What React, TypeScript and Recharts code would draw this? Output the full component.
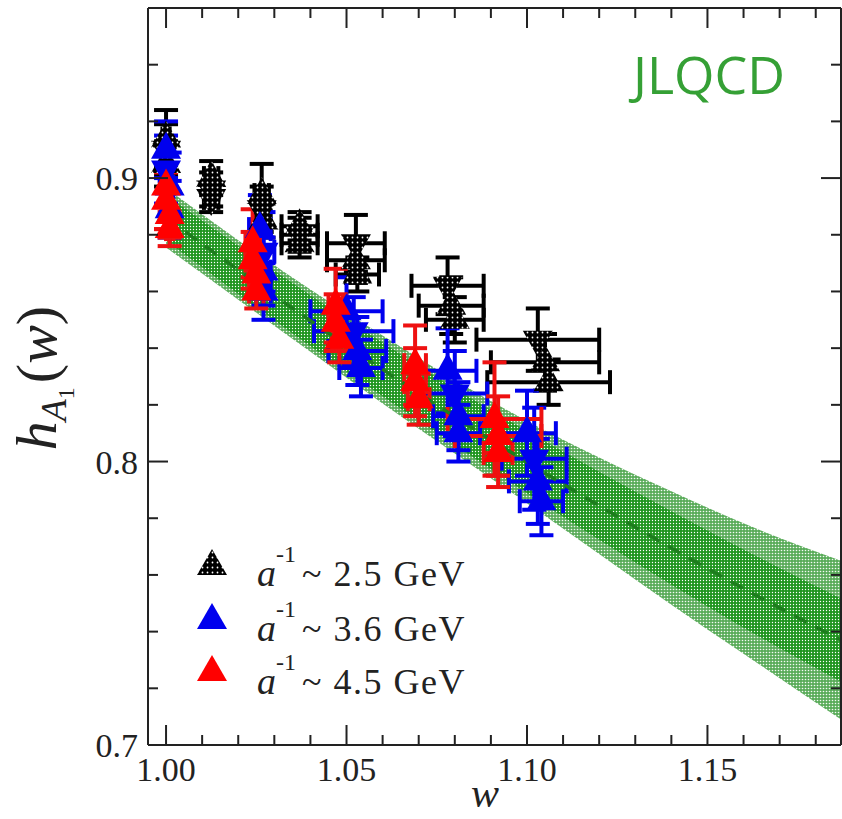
import React from "react";
import { ComposedChart, Scatter, ErrorBar, XAxis, YAxis, Area, Line } from "recharts";

// ---------- axis ticks ----------
const xTicks = [1.0, 1.01, 1.02, 1.03, 1.04, 1.05, 1.06, 1.07, 1.08, 1.09, 1.1, 1.11, 1.12, 1.13, 1.14, 1.15, 1.16, 1.17, 1.18];
const yTicks = [0.7, 0.72, 0.74, 0.76, 0.78, 0.8, 0.82, 0.84, 0.86, 0.88, 0.9, 0.92, 0.94, 0.96];
const xDomain: [number, number] = [0.995, 1.187];
const yDomain: [number, number] = [0.7, 0.96];

// ---------- fit band ----------
const bandW = [1.0, 1.02, 1.04, 1.06, 1.08, 1.1, 1.12, 1.14, 1.16, 1.187];
const bandCenter = [0.886, 0.8676, 0.8497, 0.8325, 0.8158, 0.7998, 0.7844, 0.7695, 0.7552, 0.737];
const outerHi = [0.8965, 0.8781, 0.8607, 0.8445, 0.8288, 0.8143, 0.8014, 0.7895, 0.7782, 0.765];
const outerLo = [0.8755, 0.8571, 0.8387, 0.8205, 0.8028, 0.7853, 0.7674, 0.7495, 0.7322, 0.709];
const innerHi = [0.894, 0.8761, 0.8587, 0.842, 0.8258, 0.8108, 0.7964, 0.7825, 0.769, 0.7517];
const innerLo = [0.878, 0.8591, 0.8407, 0.823, 0.8058, 0.7888, 0.7724, 0.7565, 0.7414, 0.7223];

// ---------- a^-1 ~ 2.5 GeV (black) ----------
const blackW = [1.0, 1.0, 1.0, 1.0125, 1.0125, 1.0125, 1.0265, 1.0265, 1.027, 1.037, 1.037, 1.037, 1.0526, 1.0526, 1.053, 1.078, 1.079, 1.08, 1.103, 1.105, 1.106];
const blackH = [0.914, 0.91, 0.905, 0.9, 0.896, 0.893, 0.894, 0.889, 0.885, 0.883, 0.88, 0.877, 0.877, 0.871, 0.866, 0.862, 0.855, 0.85, 0.843, 0.835, 0.828];
const blackEw = [0.001, 0.001, 0.001, 0.002, 0.002, 0.002, 0.002, 0.002, 0.002, 0.005, 0.005, 0.005, 0.008, 0.008, 0.006, 0.01, 0.009, 0.008, 0.017, 0.015, 0.017];
const blackEh = [0.01, 0.009, 0.008, 0.006, 0.006, 0.005, 0.011, 0.008, 0.006, 0.005, 0.006, 0.005, 0.01, 0.008, 0.006, 0.01, 0.01, 0.008, 0.011, 0.01, 0.008];
const blackDown = [false, true, false, false, true, true, false, true, false, false, true, false, true, false, false, true, false, false, true, false, false];

// ---------- a^-1 ~ 3.6 GeV (blue) ----------
const blueW = [1.0, 1.0, 1.001, 1.001, 1.026, 1.027, 1.027, 1.027, 1.05, 1.052, 1.053, 1.054, 1.078, 1.08, 1.081, 1.081, 1.1, 1.102, 1.103, 1.104];
const blueH = [0.91, 0.903, 0.897, 0.889, 0.882, 0.874, 0.867, 0.86, 0.853, 0.846, 0.839, 0.833, 0.832, 0.824, 0.816, 0.81, 0.81, 0.801, 0.793, 0.786];
const blueEw = [0.001, 0.001, 0.001, 0.001, 0.003, 0.003, 0.002, 0.002, 0.01, 0.011, 0.008, 0.006, 0.008, 0.009, 0.007, 0.006, 0.008, 0.009, 0.008, 0.006];
const blueEh = [0.01, 0.012, 0.012, 0.01, 0.012, 0.014, 0.012, 0.01, 0.012, 0.012, 0.012, 0.01, 0.015, 0.015, 0.012, 0.01, 0.015, 0.018, 0.015, 0.012];

// ---------- a^-1 ~ 4.5 GeV (red) ----------
const redW = [1.0, 1.0, 1.001, 1.001, 1.024, 1.024, 1.025, 1.025, 1.047, 1.047, 1.048, 1.069, 1.069, 1.07, 1.091, 1.092, 1.092];
const redH = [0.897, 0.892, 0.887, 0.882, 0.877, 0.871, 0.866, 0.86, 0.855, 0.849, 0.843, 0.834, 0.828, 0.822, 0.815, 0.809, 0.803];
const redEw = [0.001, 0.001, 0.001, 0.001, 0.002, 0.002, 0.002, 0.002, 0.002, 0.002, 0.002, 0.003, 0.003, 0.003, 0.013, 0.012, 0.004];
const redEh = [0.015, 0.01, 0.008, 0.006, 0.012, 0.01, 0.008, 0.006, 0.013, 0.01, 0.008, 0.014, 0.012, 0.009, 0.02, 0.014, 0.012];

const legendItems = [
  { value: "2.5", fill: "url(#stipple)" },
  { value: "3.6", fill: "#0000ee" },
  { value: "4.5", fill: "#ff0000" },
];

const bandData = bandW.map((w, i) => ({
  w,
  outer: [outerLo[i], outerHi[i]],
  inner: [innerLo[i], innerHi[i]],
  c: bandCenter[i],
}));
const blackData = blackW.map((w, i) => ({ w, h: blackH[i], ew: blackEw[i], eh: blackEh[i], down: blackDown[i] }));
const blueData = blueW.map((w, i) => ({ w, h: blueH[i], ew: blueEw[i], eh: blueEh[i], down: i % 4 === 1 }));
const redData = redW.map((w, i) => ({ w, h: redH[i], ew: redEw[i], eh: redEh[i], down: false }));

const SERIF = "'Liberation Serif', 'Times New Roman', serif";
const AX = "#222";

const makeShape = (fill: string) => (props: any) => {
  const { cx, cy, payload } = props;
  if (cx == null || cy == null) return <g />;
  const hw = 15;
  const h = 27;
  const pts = payload && payload.down
    ? `${cx - hw},${cy - h / 3} ${cx + hw},${cy - h / 3} ${cx},${cy + (2 * h) / 3}`
    : `${cx - hw},${cy + h / 3} ${cx + hw},${cy + h / 3} ${cx},${cy - (2 * h) / 3}`;
  return <polygon points={pts} fill={fill} />;
};

const isMajor = (v: number, step: number) => Math.abs(v / step - Math.round(v / step)) < 1e-6;

const XTick = (props: any) => {
  const { x, y, payload, top } = props;
  const v = payload.value;
  const major = isMajor(v, 0.05);
  const len = major ? 20 : 10;
  return (
    <g>
      <line x1={x} x2={x} y1={y} y2={top ? y + len : y - len} stroke={AX} strokeWidth={2} />
      {major && !top && (
        <text x={x} y={y + 36} textAnchor="middle" fontFamily={SERIF} fontSize={34} fill="#222">
          {v.toFixed(2)}
        </text>
      )}
    </g>
  );
};

const YTick = (props: any) => {
  const { x, y, payload, right } = props;
  const v = payload.value;
  const major = isMajor(v, 0.1);
  const len = major ? 20 : 10;
  return (
    <g>
      <line x1={x} x2={right ? x - len : x + len} y1={y} y2={y} stroke={AX} strokeWidth={2} />
      {major && !right && (
        <text x={x - 10} y={y + 12} textAnchor="end" fontFamily={SERIF} fontSize={34} fill="#222">
          {v.toFixed(1)}
        </text>
      )}
    </g>
  );
};

export default function App() {
  return (
    <div style={{ position: "absolute", left: 0, top: 0, width: 842, height: 819, background: "#fff" }}>
      <svg width={0} height={0} style={{ position: "absolute" }}>
        <defs>
          <pattern id="stipple" width={5} height={5} patternUnits="userSpaceOnUse">
            <rect width={5} height={5} fill="#000" />
            <circle cx={2.5} cy={2.5} r={0.9} fill="#fff" />
          </pattern>
          <pattern id="innerBand" width={3} height={3} patternUnits="userSpaceOnUse">
            <rect width={3} height={3} fill="#1f951f" />
            <circle cx={1.5} cy={1.5} r={0.7} fill="#fff" />
          </pattern>
          <pattern id="outerBand" width={3} height={3} patternUnits="userSpaceOnUse">
            <rect width={3} height={3} fill="#5aac5a" />
            <circle cx={1.5} cy={1.5} r={0.8} fill="#f4faf4" />
          </pattern>
        </defs>
      </svg>
      <ComposedChart
        width={842}
        height={819}
        data={bandData}
        margin={{ top: 7, right: 0, bottom: 73, left: 147 }}
      >
        <XAxis
          xAxisId="b"
          dataKey="w"
          type="number"
          domain={xDomain}
          allowDataOverflow
          ticks={xTicks}
          interval={0}
          height={1}
          tickSize={0}
          tickMargin={0}
          tickLine={false}
          tick={(p: any) => <XTick {...p} />}
          axisLine={{ stroke: AX, strokeWidth: 2 }}
        />
        <XAxis
          xAxisId="t"
          orientation="top"
          dataKey="w"
          type="number"
          domain={xDomain}
          allowDataOverflow
          ticks={xTicks}
          interval={0}
          height={1}
          tickSize={0}
          tickMargin={0}
          tickLine={false}
          tick={(p: any) => <XTick {...p} top />}
          axisLine={{ stroke: AX, strokeWidth: 2 }}
        />
        <YAxis
          yAxisId="l"
          type="number"
          domain={yDomain}
          allowDataOverflow
          ticks={yTicks}
          interval={0}
          width={1}
          tickSize={0}
          tickMargin={0}
          tickLine={false}
          tick={(p: any) => <YTick {...p} />}
          axisLine={{ stroke: AX, strokeWidth: 2 }}
        />
        <YAxis
          yAxisId="r"
          orientation="right"
          type="number"
          domain={yDomain}
          allowDataOverflow
          ticks={yTicks}
          interval={0}
          width={1}
          tickSize={0}
          tickMargin={0}
          tickLine={false}
          tick={(p: any) => <YTick {...p} right />}
          axisLine={{ stroke: AX, strokeWidth: 2 }}
        />
        <Area
          xAxisId="b"
          yAxisId="l"
          dataKey="outer"
          type="monotone"
          stroke="none"
          fill="url(#outerBand)"
          fillOpacity={1}
          isAnimationActive={false}
        />
        <Area
          xAxisId="b"
          yAxisId="l"
          dataKey="inner"
          type="monotone"
          stroke="none"
          fill="url(#innerBand)"
          fillOpacity={1}
          isAnimationActive={false}
        />
        <Scatter xAxisId="b" yAxisId="l" data={blackData} dataKey="h" shape={makeShape("url(#stipple)")} isAnimationActive={false}>
          <ErrorBar dataKey="eh" direction="y" width={12} stroke="#000" strokeWidth={4} isAnimationActive={false} />
          <ErrorBar dataKey="ew" direction="x" width={12} stroke="#000" strokeWidth={4} isAnimationActive={false} />
        </Scatter>
        <Scatter xAxisId="b" yAxisId="l" data={blueData} dataKey="h" shape={makeShape("#0000ee")} isAnimationActive={false}>
          <ErrorBar dataKey="eh" direction="y" width={12} stroke="#0000ee" strokeWidth={4} isAnimationActive={false} />
          <ErrorBar dataKey="ew" direction="x" width={12} stroke="#0000ee" strokeWidth={4} isAnimationActive={false} />
        </Scatter>
        <Scatter xAxisId="b" yAxisId="l" data={redData} dataKey="h" shape={makeShape("#ff0000")} isAnimationActive={false}>
          <ErrorBar dataKey="eh" direction="y" width={12} stroke="#ee1111" strokeWidth={4} isAnimationActive={false} />
          <ErrorBar dataKey="ew" direction="x" width={12} stroke="#ee1111" strokeWidth={4} isAnimationActive={false} />
        </Scatter>
        <Line
          xAxisId="b"
          yAxisId="l"
          dataKey="c"
          type="monotone"
          stroke="#1d7d1d"
          strokeWidth={3.5}
          strokeDasharray="14 10"
          dot={false}
          isAnimationActive={false}
        />
      </ComposedChart>
      <svg
        width={842}
        height={819}
        style={{ position: "absolute", left: 0, top: 0, pointerEvents: "none" }}
      >
        <text x={633} y={94} fontFamily="'Open Sans', sans-serif" fontSize={52} fill="#35a035">
          JLQCD
        </text>
        <text x={485} y={807} textAnchor="middle" fontFamily={SERIF} fontSize={42} fontStyle="italic" fill="#222">
          w
        </text>
        <g transform="translate(56,378) rotate(-90)">
          <text x={0} y={0} textAnchor="middle" fontFamily={SERIF} fontSize={58} fill="#222">
            <tspan fontStyle="italic">h</tspan>
            <tspan fontStyle="italic" fontSize={36} dy={10}>A</tspan>
            <tspan fontSize={24} dy={8}>1</tspan>
            <tspan dy={-18} dx={4}>(</tspan>
            <tspan fontStyle="italic">w</tspan>
            <tspan>)</tspan>
          </text>
        </g>
        {legendItems.map((it, i) => {
          const cy = [563, 617, 669][i];
          const base = [586, 641, 694][i];
          return (
            <g key={it.value}>
              <polygon points={`${197},${cy + 12} ${227},${cy + 12} ${212},${cy - 14}`} fill={it.fill} />
              <text x={257} y={base} fontFamily={SERIF} fontSize={38} fontStyle="italic" fill="#222">a</text>
              <text x={276} y={base - 24} fontFamily={SERIF} fontSize={24} fill="#222">-1</text>
              <text x={302} y={base} fontFamily={SERIF} fontSize={36} letterSpacing={1.5} fill="#222">{`~ ${it.value} GeV`}</text>
            </g>
          );
        })}
      </svg>
    </div>
  );
}
